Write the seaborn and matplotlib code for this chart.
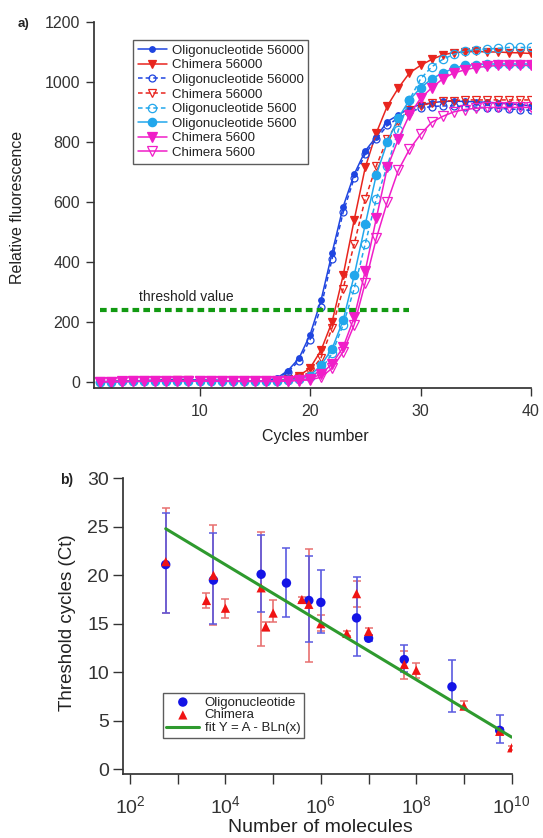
import numpy as np
import pandas as pd
import matplotlib
matplotlib.use("Agg")
import matplotlib.pyplot as plt
import seaborn as sns
from matplotlib.ticker import FixedLocator, FuncFormatter, NullLocator

# ---------------- Panel a data ----------------
cycles = list(range(1, 41))
oligo56000_solid = [0,1,2,3,4,5,6,8,7,6,5,4,3,3,2,3,
                    12,37,78,156,272,430,584,692,770,817,868,890,912,925,
                    930,935,936,935,934,932,930,927,924,920]
chimera56000_solid = [0,0,1,2,3,4,4,5,5,4,4,3,3,2,2,2,
                      4,8,20,45,105,200,355,540,715,830,920,980,1030,1055,
                      1075,1090,1098,1100,1102,1100,1100,1098,1097,1095]
oligo56000_dash = [0,1,1,2,3,4,5,6,6,5,5,4,3,2,2,3,
                   10,32,70,140,250,410,565,680,760,810,855,880,900,912,
                   918,920,920,918,916,914,912,910,908,905]
chimera56000_dash = [0,0,1,2,2,3,4,4,4,4,3,3,2,2,2,2,
                     3,6,14,32,80,180,310,460,610,720,810,870,905,920,
                     930,935,938,940,940,940,940,940,940,940]
oligo5600_dash = [0,0,1,1,2,3,3,4,4,4,3,3,2,2,2,2,
                  3,5,8,15,40,95,190,310,460,610,720,840,940,1010,
                  1050,1075,1092,1102,1108,1110,1112,1115,1115,1115]
oligo5600_solid = [0,0,1,1,2,3,3,4,4,4,3,3,2,2,2,2,
                   3,6,10,20,55,110,205,355,525,690,800,880,940,980,
                   1010,1030,1045,1055,1058,1060,1060,1060,1060,1060]
chimera5600_solid = [0,0,1,1,2,2,3,3,3,3,3,2,2,2,2,2,
                     2,4,6,10,25,60,115,215,370,545,715,810,890,945,
                     980,1010,1030,1040,1048,1052,1055,1055,1055,1055]
chimera5600_open = [0,0,0,1,1,2,2,2,2,2,2,2,1,1,1,1,
                    1,2,4,6,15,45,100,190,330,478,600,706,775,825,
                    865,885,900,908,912,915,915,915,915,915]

threshold_value = 238
threshold_x = [1, 29]

# ---------------- Panel b data ----------------
oligo_x = [5.6e2, 5.6e3, 5.6e4, 1.9e5, 5.6e5, 1e6, 5.6e6, 1e7, 5.6e7, 5.6e8, 5.6e9]
oligo_y = [21.1, 19.5, 20.1, 19.2, 17.4, 17.2, 15.6, 13.5, 11.3, 8.5, 4.0]
oligo_lo = [16.1, 15.0, 16.2, 15.7, 13.1, 14.0, 11.7, 13.2, 10.0, 5.9, 2.7]
oligo_hi = [26.4, 24.4, 24.2, 22.8, 22.0, 20.5, 19.8, 13.8, 12.8, 11.3, 5.6]

chim_x = [5.6e2, 4e3, 5.6e3, 1e4, 5.6e4, 7e4, 1e5, 4e5, 5.6e5, 1e6, 3.5e6,
          5.6e6, 1e7, 5.6e7, 1e8, 1e9, 5.6e9, 1e10]
chim_y = [21.4, 17.4, 20.0, 16.6, 18.7, 14.7, 16.1, 17.5, 17.0, 15.0, 14.0,
          18.1, 14.2, 10.8, 10.2, 6.5, 3.9, 2.2]
chim_lo = [16.1, 16.6, 14.9, 15.6, 12.7, 14.3, 15.2, 17.2, 11.1, 14.2, 13.7,
           16.7, 13.8, 9.3, 9.4, 6.2, 3.6, 2.0]
chim_hi = [26.9, 18.2, 25.2, 17.5, 24.5, 15.2, 17.4, 17.8, 22.7, 15.9, 14.3,
           19.4, 14.6, 12.2, 10.9, 7.0, 4.2, 2.4]

fit_x = [5.6e2, 1e10]
fit_y = [24.8, 3.3]

# ---------------- Styling ----------------
sns.set_theme(style="ticks")
plt.rcParams['font.family'] = ['Liberation Sans', 'DejaVu Sans']
plt.rcParams['axes.edgecolor'] = '#333333'
plt.rcParams['xtick.color'] = '#333333'
plt.rcParams['ytick.color'] = '#333333'
plt.rcParams['text.color'] = '#222222'

W, H = 543, 838
fig = plt.figure(figsize=(W / 100, H / 100), dpi=100)

def frac_box(l, r, t, b):
    return [l / W, 1 - b / H, (r - l) / W, (b - t) / H]

# ---------------- Panel a ----------------
axa = fig.add_axes(frac_box(94, 531, 22, 387.7))
BLUE = '#1f45e0'
RED = '#e8251e'
LBLUE = '#22a7ec'
MAG = '#f01ec8'

series = [
    (oligo56000_solid, 'Oligonucleotide 56000', BLUE, '-', 'o', True, 4.0),
    (chimera56000_solid, 'Chimera 56000', RED, '-', 'v', True, 6.0),
    (oligo56000_dash, 'Oligonucleotide 56000', BLUE, (0, (3, 2)), 'o', False, 5.0),
    (chimera56000_dash, 'Chimera 56000', RED, (0, (3, 2)), 'v', False, 6.0),
    (oligo5600_dash, 'Oligonucleotide 5600', LBLUE, (0, (3, 2)), 'o', False, 6.0),
    (oligo5600_solid, 'Oligonucleotide 5600', LBLUE, '-', 'o', True, 6.0),
    (chimera5600_solid, 'Chimera 5600', MAG, '-', 'v', True, 6.5),
    (chimera5600_open, 'Chimera 5600', MAG, '-', 'v', False, 6.5),
]
for vals, label, col, ls, mk, filled, ms in series:
    sns.lineplot(x=cycles, y=vals, ax=axa, color=col, linestyle=ls, linewidth=1.1,
                 marker=mk, markersize=ms, markeredgewidth=0.9,
                 markerfacecolor=col if filled else 'none', markeredgecolor=col,
                 label=label)

sns.lineplot(x=threshold_x, y=[threshold_value, threshold_value], ax=axa,
             color='#129a12', linewidth=3.0, linestyle=(0, (1.6, 1.0)), legend=False)
axa.text(4.5, 281, 'threshold value', fontsize=10, va='center', ha='left')

axa.set_xlim(0.45, 40)
axa.set_ylim(-20, 1200)
axa.set_xticks([10, 20, 30, 40])
axa.set_yticks([0, 200, 400, 600, 800, 1000, 1200])
axa.tick_params(axis='both', direction='out', length=6, width=1, labelsize=11.5)
axa.tick_params(axis='x', pad=6)
axa.tick_params(axis='y', pad=4)
for s in ['top', 'right']:
    axa.spines[s].set_visible(False)
axa.set_xlabel('')
axa.set_ylabel('')
leg = axa.legend(loc='upper left', bbox_to_anchor=(0.089, 0.951), borderaxespad=0,
                 fontsize=9.5, frameon=True, fancybox=False, edgecolor='#333333',
                 handlelength=2.2, labelspacing=0.18, borderpad=0.35, handletextpad=0.4)
leg.get_frame().set_linewidth(1.0)

fig.text(17 / W, 1 - 207 / H, 'Relative fluorescence', rotation=90, fontsize=11.5,
         ha='center', va='center')
fig.text(315 / W, 1 - 436 / H, 'Cycles number', fontsize=11.5, ha='center', va='center')
fig.text(23 / W, 1 - 24 / H, 'a)', fontsize=9.5, fontweight='bold', ha='center', va='center')

# ---------------- Panel b ----------------
axb = fig.add_axes(frac_box(123, 511.7, 478.3, 774))
axb.set_xscale('log')

oligo_err = [np.array(oligo_y) - np.array(oligo_lo), np.array(oligo_hi) - np.array(oligo_y)]
chim_err = [np.array(chim_y) - np.array(chim_lo), np.array(chim_hi) - np.array(chim_y)]
axb.errorbar(chim_x, chim_y, yerr=chim_err, fmt='none', ecolor='#e87070',
             elinewidth=1.2, capsize=2.8, capthick=1.1, zorder=2)
axb.errorbar(oligo_x, oligo_y, yerr=oligo_err, fmt='none', ecolor='#5a5ae0',
             elinewidth=1.2, capsize=2.8, capthick=1.1, zorder=2)

sns.scatterplot(x=oligo_x, y=oligo_y, ax=axb, color='#1414e6', marker='o', s=46,
                edgecolor='none', label='Oligonucleotide', zorder=3)
sns.scatterplot(x=chim_x, y=chim_y, ax=axb, color='#f01414', marker='^', s=44,
                edgecolor='none', label='Chimera', zorder=4)
sns.lineplot(x=fit_x, y=fit_y, ax=axb, color='#2e9a2e', linewidth=2.2,
             label='fit Y = A - BLn(x)', zorder=5)

axb.set_xlim(10 ** 1.853, 1e10)
axb.set_ylim(-0.5, 30)
axb.xaxis.set_major_locator(FixedLocator([10.0 ** k for k in range(2, 11)]))
axb.xaxis.set_minor_locator(NullLocator())
axb.xaxis.set_major_formatter(FuncFormatter(
    lambda v, p: (r'$\mathregular{10^{%d}}$' % int(round(np.log10(v))))
    if int(round(np.log10(v))) % 2 == 0 else ''))
axb.set_yticks([0, 5, 10, 15, 20, 25, 30])
axb.tick_params(axis='both', direction='out', length=7, width=1, labelsize=14)
axb.tick_params(axis='x', pad=8)
axb.tick_params(axis='y', pad=3)
for s in ['top', 'right']:
    axb.spines[s].set_visible(False)
axb.set_xlabel('')
axb.set_ylabel('')
legb = axb.legend(loc='upper left', bbox_to_anchor=(0.103, 0.274), borderaxespad=0,
                  fontsize=9.5, frameon=True, fancybox=False, edgecolor='#333333',
                  handlelength=2.5, labelspacing=0.05, borderpad=0.25, handletextpad=0.4)
legb.get_frame().set_linewidth(1.0)

fig.text(67.6 / W, 1 - 623 / H, 'Threshold cycles (Ct)', rotation=90, fontsize=13.5,
         ha='center', va='center')
fig.text(320 / W, 1 - 827 / H, 'Number of molecules', fontsize=14, ha='center', va='center')
fig.text(66.5 / W, 1 - 480 / H, 'b)', fontsize=10, fontweight='bold', ha='center', va='center')

fig.savefig('out.png', dpi=100, facecolor='white')
